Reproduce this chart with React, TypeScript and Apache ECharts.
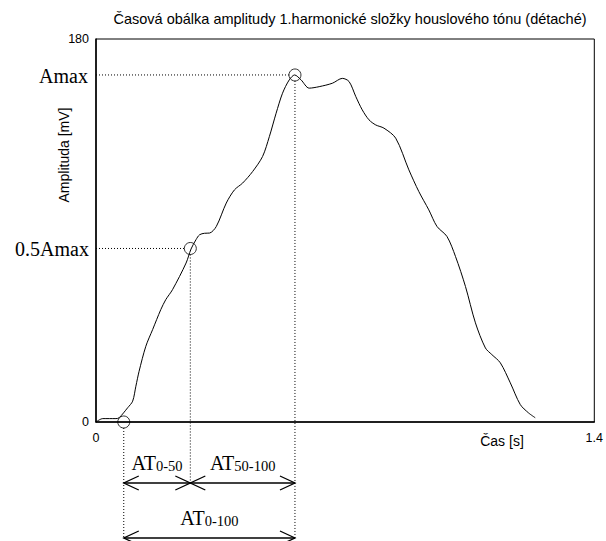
import React, { useEffect, useRef } from 'react';
import * as echarts from 'echarts';

const titleText = 'Časová obálka amplitudy 1.harmonické složky houslového tónu (détaché)';
const yAxisName = 'Amplituda [mV]';
const xAxisName = 'Čas [s]';

const xMin = 0;
const xMax = 1.4;
const yMin = 0;
const yMax = 180;

const timeS = [
  0, 0.019, 0.056, 0.065, 0.089, 0.103, 0.112, 0.121, 0.14, 0.159, 0.182, 0.196,
  0.215, 0.253, 0.267, 0.281, 0.291, 0.305, 0.319, 0.338, 0.366, 0.389, 0.412,
  0.44, 0.468, 0.487, 0.506, 0.524, 0.543, 0.558, 0.576, 0.599, 0.627, 0.664,
  0.692, 0.711, 0.73, 0.748, 0.767, 0.786, 0.809, 0.842, 0.879, 0.907, 0.935,
  0.958, 0.986, 1.01, 1.038, 1.066, 1.094, 1.112, 1.136, 1.164, 1.192, 1.215, 1.234,
];
const amplitudeMV = [
  0, 1.6, 1.6, 2.0, 6.7, 9.8, 16.8, 23.8, 35.6, 43.4, 52.8, 57.5,
  62.2, 74.7, 81.3, 85.7, 88.0, 88.7, 88.8, 91.9, 102.9, 109.1, 112.3,
  117.7, 124.8, 134.1, 145.1, 154.5, 160.8, 163.1, 160.8, 156.9, 157.6, 159.2,
  161.5, 160.0, 152.9, 146.7, 142.0, 139.6, 138.1, 133.4, 118.5, 108.3, 99.7,
  91.9, 87.2, 77.8, 63.7, 46.6, 34.8, 31.7, 27.8, 18.4, 8.2, 4.3, 2.0,
];

// Attack markers: start (0 %), 50 % and 100 % of Amax
const markerTimes = [0.078, 0.265, 0.559];
const markerValues = [0, 81.55, 163.1];
const levelLabels = ['0.5Amax', 'Amax'];
const intervalLabels = [
  ['AT', '0-50'],
  ['AT', '50-100'],
  ['AT', '0-100'],
];

const SANS = 'Liberation Sans, Arial, sans-serif';
const SERIF = 'Liberation Serif, Times New Roman, serif';

export default function App() {
  const ref = useRef<HTMLDivElement>(null);

  useEffect(() => {
    document.body.style.margin = '0';
    const chart = echarts.init(ref.current!, null, { renderer: 'svg' });
    chart.setOption({
      animation: false,
      backgroundColor: '#fff',
      grid: {
        left: 96,
        right: 10,
        top: 39,
        bottom: 119,
        show: true,
        borderColor: '#000',
        borderWidth: 1,
        backgroundColor: 'transparent',
      },
      xAxis: {
        type: 'value',
        min: xMin,
        max: xMax,
        interval: xMax,
        axisLine: { show: true, onZero: false, lineStyle: { color: '#000', width: 1.5 } },
        axisTick: { show: false },
        splitLine: { show: false },
        axisLabel: { color: '#000', fontSize: 12.5, fontFamily: SANS, margin: 9 },
      },
      yAxis: {
        type: 'value',
        min: yMin,
        max: yMax,
        interval: yMax,
        axisLine: { show: true, lineStyle: { color: '#000', width: 1.5 } },
        axisTick: { show: false },
        splitLine: { show: false },
        axisLabel: { color: '#000', fontSize: 12.5, fontFamily: SANS, margin: 7 },
      },
      series: [
        {
          type: 'line',
          data: timeS.map((t, i) => [t, amplitudeMV[i]]),
          showSymbol: false,
          smooth: 0.3,
          lineStyle: { color: '#000', width: 1 },
          silent: true,
        },
        {
          type: 'scatter',
          data: markerTimes.map((t, i) => [t, markerValues[i]]),
          symbol: 'circle',
          symbolSize: 12,
          clip: false,
          itemStyle: { color: 'rgba(0,0,0,0)', borderColor: '#000', borderWidth: 1 },
          silent: true,
        },
      ],
    });

    const px = (t: number, v: number) => chart.convertToPixel({ gridIndex: 0 }, [t, v]) as number[];
    const [x0, y0] = px(markerTimes[0], markerValues[0]);
    const [x50, y50] = px(markerTimes[1], markerValues[1]);
    const [x100, y100] = px(markerTimes[2], markerValues[2]);
    const [gx0] = px(xMin, 0);
    const r = 6;
    const row1 = 483;
    const row2 = 538;
    const dotted = { stroke: '#000', lineWidth: 1, lineDash: [1, 2] };
    const solid = { stroke: '#000', lineWidth: 1.5, fill: 'none' };
    const head = (x: number, y: number, dir: number) => ({
      type: 'polyline',
      shape: { points: [[x + dir * 15, y - 7], [x, y], [x + dir * 15, y + 7]] },
      style: { stroke: '#000', lineWidth: 1.3, fill: 'none' },
    });
    const atText = (x: number, y: number, lbl: string[]) => ({
      type: 'text',
      x,
      y,
      style: {
        text: `{a|${lbl[0]}}{b|${lbl[1]}}`,
        align: 'center',
        verticalAlign: 'middle',
        rich: {
          a: { fontSize: 20, fontFamily: SERIF, fill: '#000', verticalAlign: 'bottom' },
          b: { fontSize: 14.5, fontFamily: SERIF, fill: '#000', verticalAlign: 'bottom' },
        },
      },
    });

    chart.setOption({
      graphic: [
        {
          type: 'text',
          x: 350,
          y: 19,
          style: { text: titleText, font: `14.5px ${SANS}`, fill: '#000', align: 'center', verticalAlign: 'middle' },
        },
        {
          type: 'text',
          x: 64,
          y: 155,
          rotation: Math.PI / 2,
          style: { text: yAxisName, font: `14px ${SANS}`, fill: '#000', align: 'center', verticalAlign: 'middle' },
        },
        {
          type: 'text',
          x: 502,
          y: 441,
          style: { text: xAxisName, font: `14px ${SANS}`, fill: '#000', align: 'center', verticalAlign: 'middle' },
        },
        // level labels
        {
          type: 'text',
          x: 89,
          y: y50 + 1,
          style: { text: levelLabels[0], font: `20px ${SERIF}`, fill: '#000', align: 'right', verticalAlign: 'middle' },
        },
        {
          type: 'text',
          x: 88,
          y: y100 + 1,
          style: { text: levelLabels[1], font: `20px ${SERIF}`, fill: '#000', align: 'right', verticalAlign: 'middle' },
        },
        // dotted guide lines
        { type: 'line', shape: { x1: gx0, y1: y100, x2: x100 - r, y2: y100 }, style: dotted },
        { type: 'line', shape: { x1: gx0, y1: y50, x2: x50 - r, y2: y50 }, style: dotted },
        { type: 'line', shape: { x1: x100, y1: y100 + r, x2: x100, y2: row2 }, style: dotted },
        { type: 'line', shape: { x1: x50, y1: y50 + r, x2: x50, y2: row1 }, style: dotted },
        { type: 'line', shape: { x1: x0, y1: y0 + r, x2: x0, y2: row2 }, style: dotted },
        // arrows row 1
        { type: 'line', shape: { x1: x0, y1: row1, x2: x100, y2: row1 }, style: solid },
        head(x0, row1, 1),
        head(x50, row1, -1),
        head(x50, row1, 1),
        head(x100, row1, -1),
        // arrows row 2
        { type: 'line', shape: { x1: x0, y1: row2, x2: x100, y2: row2 }, style: solid },
        head(x0, row2, 1),
        head(x100, row2, -1),
        // AT labels
        atText((x0 + x50) / 2, 463, intervalLabels[0]),
        atText((x50 + x100) / 2, 463, intervalLabels[1]),
        atText((x0 + x100) / 2, 518, intervalLabels[2]),
      ],
    });

    return () => chart.dispose();
  }, []);

  return <div ref={ref} style={{ width: 606, height: 541 }} />;
}
